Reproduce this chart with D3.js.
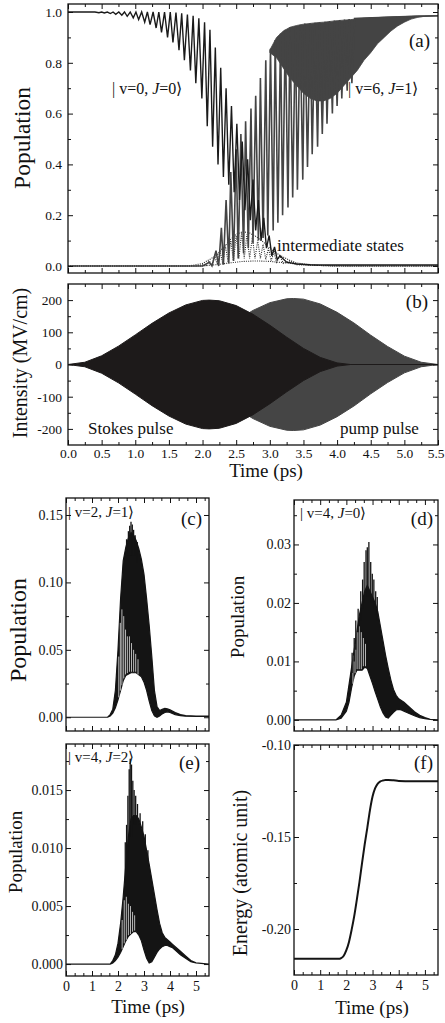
<!DOCTYPE html>
<html><head><meta charset="utf-8">
<script src="https://cdn.jsdelivr.net/npm/d3@7"></script>
<style>
body{margin:0;background:#fff;}
svg text{font-family:"Liberation Serif","Times New Roman",serif;fill:#111;}
</style></head><body>
<svg id="fig" width="445" height="1023"></svg>
<script>
// ---------------- DATA ----------------
// tick labels
const tTicks = [0,0.5,1,1.5,2,2.5,3,3.5,4,4.5,5,5.5];
const tMinor = [0.25,0.75,1.25,1.75,2.25,2.75,3.25,3.75,4.25,4.75,5.25];
const tTicksSmall = [0,1,2,3,4,5];
const tMinorSmall = [0.333,0.667,1.333,1.667,2.333,2.667,3.333,3.667,4.333,4.667,5.333];
const popTicksA = [0,0.2,0.4,0.6,0.8,1.0];
const popMinorA = [0.1,0.3,0.5,0.7,0.9];
const fieldTicks = [-200,-100,0,100,200];
const fieldMinor = [-150,-50,50,150];
const cTicks = [0,0.05,0.10,0.15], cMinor = [0.025,0.075,0.125];
const dTicks = [0,0.01,0.02,0.03], dMinor = [0.005,0.015,0.025,0.035];
const eTicks = [0,0.005,0.010,0.015], eMinor = [0.0025,0.0075,0.0125,0.0175];
const fTicks = [-0.20,-0.15,-0.10], fMinor = [-0.175,-0.125];

// (a) |v=0,J=0> extrema (time ps, population)
const v0T = [0,0.40,0.46,0.50,0.54,0.585,0.63,0.67,0.71,0.755,0.80,0.84,0.88,0.925,0.97,1.01,1.05,1.095,1.14,1.18,1.22,1.265,1.31,1.35,1.39,1.435,1.48,1.52,1.56,1.605,1.65,1.69,1.73,1.775,1.82,1.86,1.90,1.945,1.99,2.03,2.07,2.11,2.15,2.19,2.23,2.27,2.31,2.35,2.39,2.43,2.47,2.51,2.55,2.59,2.63,2.67,2.71,2.75,2.79,2.83,2.87,2.91,2.95,2.99,3.03,3.07,3.11,3.15,3.25,3.40,3.6,4.0,5.5];
const v0V = [1.0,1.0,0.997,1.0,0.996,1.0,0.994,1.0,0.991,1.0,0.987,1.0,0.983,1.0,0.977,1.0,0.970,1.0,0.960,1.0,0.950,1.0,0.937,1.0,0.920,1.0,0.900,1.0,0.880,0.998,0.850,0.995,0.810,0.99,0.770,0.985,0.720,0.975,0.660,0.96,0.550,0.93,0.470,0.86,0.400,0.78,0.350,0.70,0.320,0.63,0.290,0.56,0.260,0.49,0.220,0.42,0.180,0.34,0.140,0.26,0.100,0.19,0.070,0.12,0.040,0.075,0.025,0.04,0.015,0.008,0.005,0.004,0.004];
// (a) |v=6,J=1> extrema
const v6T = [0,2.00,2.10,2.14,2.20,2.24,2.28,2.31,2.35,2.39,2.42,2.46,2.50,2.53,2.57,2.61,2.64,2.68,2.72,2.75,2.79,2.83,2.86,2.90,2.94,2.97,3.01,3.05,3.08,3.12,3.16,3.19,3.23,3.27,3.30,3.34,3.38,3.41,3.45,3.49,3.52,3.56,3.60,3.63,3.67,3.71,3.74,3.78,3.82,3.85,3.89,3.93,3.96,4.00,4.04,4.07,4.11,4.15,4.18,4.22,4.26,4.4,5.5];
const v6V = [0,0,0.015,0,0.06,0,0.15,0.005,0.26,0.01,0.37,0.02,0.46,0.03,0.52,0.05,0.57,0.07,0.62,0.09,0.67,0.10,0.74,0.11,0.81,0.12,0.855,0.14,0.89,0.17,0.915,0.20,0.93,0.23,0.94,0.27,0.945,0.30,0.95,0.34,0.955,0.39,0.956,0.44,0.958,0.47,0.96,0.52,0.962,0.56,0.964,0.60,0.966,0.63,0.968,0.66,0.97,0.69,0.972,0.72,0.974,0.976,0.985];
// (a) |v=6,J=1> dense oscillation band
const v6BandT  = [3.0,3.1,3.2,3.3,3.4,3.5,3.6,3.7,3.8,3.9,4.0,4.1,4.2,4.3,4.4,4.5,4.6,4.7,4.8,4.9,5.0,5.1,5.2,5.3,5.5];
const v6BandHi = [0.85,0.90,0.925,0.94,0.947,0.952,0.955,0.958,0.96,0.963,0.966,0.968,0.97,0.973,0.975,0.977,0.978,0.98,0.981,0.982,0.983,0.984,0.985,0.985,0.985];
const v6BandLo = [0.84,0.82,0.78,0.74,0.71,0.68,0.66,0.65,0.65,0.66,0.68,0.71,0.74,0.77,0.81,0.84,0.875,0.90,0.925,0.945,0.96,0.972,0.979,0.983,0.985];
// (a) intermediate states (dotted)
const intAT = [0,1.9,2.0,2.05,2.1,2.14,2.18,2.22,2.26,2.30,2.34,2.38,2.42,2.46,2.50,2.54,2.58,2.62,2.66,2.70,2.74,2.78,2.82,2.86,2.90,2.94,2.98,3.02,3.06,3.10,3.15,3.2,3.3,3.4,3.6,4.0,5.5];
const intAV = [0,0,0.005,0.0,0.02,0.003,0.04,0.005,0.06,0.01,0.08,0.015,0.10,0.02,0.12,0.03,0.13,0.03,0.125,0.03,0.115,0.03,0.10,0.03,0.085,0.025,0.07,0.02,0.055,0.015,0.04,0.01,0.02,0.005,0.003,0.0,0.0];
const intBT = [0,1.8,2.0,2.2,2.3,2.4,2.5,2.6,2.7,2.8,2.9,3.0,3.1,3.2,3.3,3.4,3.6,3.8,4.0,5.5];
const intBV = [0,0,0.01,0.04,0.07,0.10,0.125,0.135,0.13,0.115,0.095,0.07,0.05,0.035,0.022,0.012,0.004,0.001,0,0];
const intCT = [0,2.0,2.2,2.4,2.6,2.8,3.0,3.2,3.4,3.6,3.8,4.2,5.5];
const intCV = [0,0,0.005,0.012,0.018,0.02,0.018,0.013,0.008,0.004,0.002,0,0];

// (b) pulse envelopes (MV/cm)
const stokesT = [0,0.25,0.5,0.75,1.0,1.25,1.5,1.75,2.0,2.1,2.25,2.5,2.75,3.0,3.25,3.5,3.75,4.0,4.2,5.5];
const stokesE = [0,7,27,57,92,128,160,185,199,200,198,183,156,122,85,50,22,5,0,0];
const pumpT = [0,1.2,1.5,1.75,2.0,2.25,2.5,2.75,3.0,3.25,3.35,3.5,3.75,4.0,4.25,4.5,4.75,5.0,5.25,5.5];
const pumpE = [0,0,10,31,62,99,136,168,192,204,205,203,188,162,129,91,56,26,7,0];

// (c) |v=2,J=1>
const cUpT = [0,1.6,1.7,1.8,1.9,1.95,2.0,2.1,2.2,2.3,2.4,2.5,2.6,2.7,2.8,2.9,3.0,3.1,3.2,3.3,3.4,3.5,3.6,3.7,3.8,3.9,4.0,4.2,4.4,4.6,5.0,5.5];
const cUpV = [0,0,0.002,0.006,0.02,0.035,0.05,0.088,0.116,0.126,0.133,0.137,0.135,0.131,0.125,0.117,0.106,0.088,0.068,0.045,0.02,0.008,0.005,0.0058,0.0065,0.0062,0.0055,0.0035,0.002,0.0012,0.0009,0.0009];
const cLoT = [0,1.6,1.7,1.8,1.9,2.0,2.1,2.2,2.3,2.5,2.7,2.9,3.0,3.1,3.2,3.3,3.4,3.5,3.6,3.7,3.8,3.9,4.0,4.2,4.4,4.6,5.0,5.5];
const cLoV = [0,0,0.001,0.003,0.007,0.013,0.02,0.027,0.031,0.033,0.033,0.03,0.026,0.02,0.012,0.005,0.001,0.0,0.001,0.0025,0.0035,0.004,0.0035,0.002,0.0012,0.0008,0.0007,0.0007];
const cSpikes = [[2.33,0.12,0.132],[2.40,0.12,0.138],[2.45,0.12,0.142],[2.50,0.12,0.145],[2.55,0.12,0.143],[2.60,0.12,0.139],[2.66,0.12,0.135],[2.74,0.115,0.13]];
const cGaps = [[2.03,0.014,0.045],[2.09,0.019,0.07],[2.15,0.023,0.08],[2.22,0.028,0.075],[2.29,0.031,0.065],[2.36,0.032,0.06],[2.44,0.033,0.06],[2.52,0.033,0.055],[2.60,0.033,0.05],[2.68,0.033,0.047],[2.77,0.031,0.043]];

// (d) |v=4,J=0>
const dT  = [0,1.6,1.8,2.0,2.1,2.2,2.3,2.4,2.5,2.6,2.7,2.8,2.9,3.0,3.1,3.2,3.3,3.4,3.5,3.6,3.7,3.8,3.9,4.0,4.1,4.2,4.4,4.6,4.8,5.0,5.2,5.5];
const dUp = [0,0,0.0008,0.003,0.006,0.009,0.012,0.015,0.018,0.02,0.022,0.023,0.022,0.021,0.02,0.0185,0.016,0.0135,0.011,0.0088,0.0068,0.0052,0.0042,0.0036,0.0033,0.003,0.0022,0.0014,0.0008,0.0004,0.0001,0];
const dLo = [0,0,0.0003,0.0015,0.003,0.0055,0.0075,0.0085,0.0085,0.0085,0.009,0.0088,0.0075,0.0062,0.0048,0.0035,0.0022,0.0012,0.0005,0.0003,0.0008,0.0013,0.0017,0.0018,0.0017,0.0015,0.0011,0.0007,0.0004,0.0002,0.0001,0];
const dSpikes = [[2.22,0.008,0.0115],[2.30,0.01,0.014],[2.36,0.012,0.017],[2.45,0.015,0.019],[2.55,0.017,0.022],[2.62,0.019,0.024],[2.68,0.02,0.027],[2.75,0.021,0.029],[2.80,0.021,0.0295],[2.86,0.021,0.0304],[2.93,0.02,0.027],[2.99,0.02,0.025],[3.05,0.019,0.024],[3.12,0.018,0.022],[3.18,0.017,0.021]];
const dGaps = [[2.25,0.006,0.011],[2.33,0.0078,0.013],[2.41,0.0085,0.015],[2.49,0.0085,0.016],[2.57,0.0085,0.015],[2.65,0.009,0.014],[2.73,0.009,0.013]];

// (e) |v=4,J=2>
const eT  = [0,1.7,1.8,1.9,2.0,2.1,2.2,2.3,2.4,2.5,2.6,2.7,2.8,2.9,3.0,3.1,3.2,3.3,3.4,3.5,3.6,3.7,3.8,3.9,4.0,4.1,4.2,4.4,4.6,4.8,5.0,5.5];
const eUp = [0,0,0.0003,0.0008,0.0018,0.0035,0.0058,0.0085,0.011,0.0125,0.0128,0.0128,0.0125,0.0118,0.011,0.0098,0.0086,0.0073,0.006,0.0047,0.0035,0.0027,0.0023,0.0021,0.0019,0.0017,0.0015,0.0011,0.0007,0.0003,0.0001,0];
const eLo = [0,0,0.0001,0.0003,0.0006,0.001,0.0015,0.002,0.0024,0.0026,0.0028,0.0028,0.0025,0.002,0.0012,0.0005,0.0001,0.0002,0.0006,0.001,0.0013,0.0015,0.0016,0.0016,0.0015,0.0014,0.0012,0.0008,0.0005,0.0002,0.0001,0];
const eSpikes = [[2.28,0.007,0.0105],[2.33,0.008,0.012],[2.38,0.009,0.0145],[2.43,0.01,0.0168],[2.47,0.011,0.0177],[2.52,0.011,0.0172],[2.57,0.012,0.0158],[2.62,0.012,0.015],[2.68,0.012,0.0145],[2.75,0.012,0.0138],[2.85,0.012,0.013],[2.95,0.011,0.0123],[3.05,0.010,0.0112],[3.15,0.009,0.0098]];
const eGaps = [[2.16,0.0012,0.0038],[2.24,0.0017,0.0055],[2.32,0.002,0.0058],[2.40,0.0024,0.0052],[2.48,0.0025,0.005],[2.56,0.0027,0.0045],[2.64,0.0028,0.0042]];

// (f) energy (atomic unit)
const fT = [0,1.0,1.7,1.8,1.9,2.0,2.1,2.2,2.3,2.4,2.5,2.6,2.7,2.8,2.9,3.0,3.1,3.2,3.3,3.4,3.5,3.6,3.8,4.0,4.5,5.0,5.5];
const fV = [-0.2162,-0.2162,-0.2162,-0.2158,-0.2145,-0.2115,-0.207,-0.2005,-0.193,-0.184,-0.1745,-0.164,-0.154,-0.145,-0.1355,-0.128,-0.1235,-0.121,-0.1198,-0.1193,-0.119,-0.119,-0.1192,-0.1195,-0.1197,-0.1197,-0.1197];

// ---------------- DRAWING ----------------
const svg = d3.select("#fig");
svg.append("rect").attr("width",445).attr("height",1023).attr("fill","#fff");
const FONT = '"Liberation Serif","Times New Roman",serif';

function panel(name, x0, x1, y0, y1, xd, yd) {
  const x = d3.scaleLinear().domain(xd).range([x0, x1]);
  const y = d3.scaleLinear().domain(yd).range([y1, y0]);
  const id = "clip" + name;
  svg.append("clipPath").attr("id", id).append("rect")
    .attr("x", x0).attr("y", y0).attr("width", x1 - x0).attr("height", y1 - y0);
  const g = svg.append("g").attr("clip-path", `url(#${id})`);
  return {x, y, g, x0, x1, y0, y1};
}

function axes(p, o) {
  const ax = svg.append("g");
  const noLab = () => "";
  const style = sel => {
    sel.select(".domain").remove();
    sel.selectAll("line").attr("stroke", "#111").attr("stroke-width", 1);
    sel.attr("font-family", FONT).attr("font-size", o.fs);
    sel.selectAll("text").attr("fill", "#111");
  };
  const bx = ax.append("g").attr("transform", `translate(0,${p.y1})`)
    .call(d3.axisBottom(p.x).tickValues(o.xt).tickSize(-5).tickPadding(o.xpad).tickFormat(o.xf || noLab)).call(style);
  ax.append("g").attr("transform", `translate(0,${p.y1})`)
    .call(d3.axisBottom(p.x).tickValues(o.xm).tickSize(-3).tickFormat(noLab)).call(style);
  ax.append("g").attr("transform", `translate(0,${p.y0})`)
    .call(d3.axisTop(p.x).tickValues(o.xt).tickSize(-5).tickFormat(noLab)).call(style);
  ax.append("g").attr("transform", `translate(0,${p.y0})`)
    .call(d3.axisTop(p.x).tickValues(o.xm).tickSize(-3).tickFormat(noLab)).call(style);
  ax.append("g").attr("transform", `translate(${p.x0},0)`)
    .call(d3.axisLeft(p.y).tickValues(o.yt).tickSize(-5).tickPadding(o.ypad).tickFormat(o.yf)).call(style);
  ax.append("g").attr("transform", `translate(${p.x0},0)`)
    .call(d3.axisLeft(p.y).tickValues(o.ym).tickSize(-3).tickFormat(noLab)).call(style);
  ax.append("g").attr("transform", `translate(${p.x1},0)`)
    .call(d3.axisRight(p.y).tickValues(o.yt).tickSize(-5).tickFormat(noLab)).call(style);
  ax.append("g").attr("transform", `translate(${p.x1},0)`)
    .call(d3.axisRight(p.y).tickValues(o.ym).tickSize(-3).tickFormat(noLab)).call(style);
  svg.append("rect").attr("x", p.x0).attr("y", p.y0).attr("width", p.x1 - p.x0).attr("height", p.y1 - p.y0)
    .attr("fill", "none").attr("stroke", "#111").attr("stroke-width", 1.3);
  return bx;
}

function text(x, y, str, size, anchor, opts = {}) {
  const t = svg.append("text").attr("x", x).attr("y", y).attr("font-size", size)
    .attr("text-anchor", anchor || "start").attr("font-family", FONT);
  if (opts.rot) t.attr("transform", `rotate(-90,${x},${y})`).attr("dominant-baseline", "central");
  return t;
}
function ketLabel(x, y, v, J, size) {
  const t = text(x, y, "", size, "start");
  t.append("tspan").text("| v=" + v + ", ");
  t.append("tspan").attr("font-style", "italic").text("J");
  t.append("tspan").text("=" + J + "\u27E9");
}
function yTitle(x, y, str, size) { text(x, y, str, size, "middle", {rot: true}).text(str); }

const lineOf = (p) => d3.line().x(d => p.x(d[0])).y(d => p.y(d[1]));
const fmt = f => d => d3.format(f)(d).replace("\u2212", "-");

// ---- panel (a)
const A = panel("a", 68, 438, 4, 273, [0, 5.5], [-0.0276, 1.0315]);
const dotted = (tt, vv) => A.g.append("path").datum(d3.zip(tt, vv)).attr("d", lineOf(A))
  .attr("fill", "none").attr("stroke", "#2a2a2a").attr("stroke-width", 1.1).attr("stroke-dasharray", "1,1.2");
dotted(intCT, intCV);
dotted(intBT, intBV);
dotted(intAT, intAV);
A.g.append("path").datum(d3.zip(v6BandT, v6BandLo, v6BandHi))
  .attr("d", d3.area().x(d => A.x(d[0])).y0(d => A.y(d[1])).y1(d => A.y(d[2])))
  .attr("fill", "#444").attr("stroke", "#444").attr("stroke-width", 0.8);
A.g.append("path").datum(d3.zip(v6T, v6V)).attr("d", lineOf(A))
  .attr("fill", "none").attr("stroke", "#444").attr("stroke-width", 1.6);
A.g.append("path").datum(d3.zip(v0T, v0V)).attr("d", lineOf(A))
  .attr("fill", "none").attr("stroke", "#1a1a1a").attr("stroke-width", 1.4);
axes(A, {xt: tTicks, xm: tMinor, yt: popTicksA, ym: popMinorA, xf: null, yf: fmt(".1f"), xpad: 3, ypad: 6, fs: 13.5});
yTitle(22, 138, "Population", 23.5);
text(430, 47, "", 19, "end").text("(a)");
ketLabel(112, 94, 0, 0, 16);
ketLabel(348, 94, 6, 1, 16);
text(277, 251, "", 17, "start").text("intermediate states");

// ---- panel (b)
const B = panel("b", 68, 438, 284, 445, [0, 5.5], [-250, 250]);
const env = d3.area().x(d => B.x(d[0])).y0(d => B.y(-d[1])).y1(d => B.y(d[1]));
B.g.append("path").datum(d3.zip(pumpT, pumpE)).attr("d", env).attr("fill", "#454545").attr("stroke", "#454545").attr("stroke-width", 1);
B.g.append("path").datum(d3.zip(stokesT, stokesE)).attr("d", env).attr("fill", "#1d1a1a").attr("stroke", "#1d1a1a").attr("stroke-width", 1);
const bx = axes(B, {xt: tTicks, xm: tMinor, yt: fieldTicks, ym: fieldMinor, xf: fmt(".1f"), yf: d => String(d), xpad: 3, ypad: 6, fs: 13.5});
// last label sits at the right page edge: keep it inside the page
bx.selectAll(".tick").filter(d => d === 5.5).select("text").attr("text-anchor", "end").attr("x", 6);
yTitle(20, 363, "Intensity (MV/cm)", 20);
text(428, 308, "", 19, "end").text("(b)");
text(88, 434, "", 17, "start").text("Stokes pulse");
text(340, 434, "", 17, "start").text("pump pulse");
text(266, 477, "", 19, "middle").text("Time (ps)");

// helper for oscillating small panels
function dense(P, upT, upV, loT, loV, spikes, gaps) {
  const pts = d3.zip(upT, upV).concat(d3.zip(loT, loV).reverse());
  P.g.append("path").datum(pts).attr("d", lineOf(P).curve(d3.curveLinearClosed))
    .attr("fill", "#141414").attr("stroke", "#141414").attr("stroke-width", 1.2);
  if (gaps) P.g.selectAll(null).data(gaps).join("line")
    .attr("x1", d => P.x(d[0])).attr("x2", d => P.x(d[0]))
    .attr("y1", d => P.y(d[1]) - 1).attr("y2", d => P.y(d[2]))
    .attr("stroke", "#fff").attr("stroke-width", 0.7);
  if (spikes) P.g.selectAll(null).data(spikes).join("line")
    .attr("x1", d => P.x(d[0])).attr("x2", d => P.x(d[0]))
    .attr("y1", d => P.y(d[1])).attr("y2", d => P.y(d[2]))
    .attr("stroke", "#141414").attr("stroke-width", 1.3);
}

// ---- panel (c)
const C = panel("c", 66, 209, 498, 731, [0, 5.5], [-0.0102, 0.1626]);
dense(C, cUpT, cUpV, cLoT, cLoV, cSpikes, cGaps);
axes(C, {xt: tTicksSmall, xm: tMinorSmall, yt: cTicks, ym: cMinor, xf: null, yf: fmt(".2f"), xpad: 5, ypad: 3, fs: 14});
yTitle(18, 630, "Population", 24);
text(202, 525, "", 19, "end").text("(c)");
ketLabel(68, 517, 2, 1, 15);

// ---- panel (d)
const D = panel("d", 294, 438, 500, 731, [0, 5.5], [-0.0019, 0.0376]);
dense(D, dT, dUp, dT, dLo, dSpikes, dGaps);
axes(D, {xt: tTicksSmall, xm: tMinorSmall, yt: dTicks, ym: dMinor, xf: null, yf: fmt(".2f"), xpad: 5, ypad: 3, fs: 14});
yTitle(237, 617, "Population", 19);
text(433, 525, "", 19, "end").text("(d)");
ketLabel(300, 518, 4, 0, 15);

// ---- panel (e)
const E = panel("e", 66, 209, 744, 976, [0, 5.5], [-0.00103, 0.01897]);
dense(E, eT, eUp, eT, eLo, eSpikes, eGaps);
axes(E, {xt: tTicksSmall, xm: tMinorSmall, yt: eTicks, ym: eMinor, xf: d => String(d), yf: fmt(".3f"), xpad: 5, ypad: 3, fs: 14});
yTitle(15, 852, "Population", 19);
text(200, 769, "", 19, "end").text("(e)");
ketLabel(68, 762, 4, 2, 15);
text(148, 1013, "", 19, "middle").text("Time (ps)");

// ---- panel (f)
const F = panel("f", 294, 438, 745, 975, [0, 5.5], [-0.225, -0.10]);
F.g.append("path").datum(d3.zip(fT, fV)).attr("d", lineOf(F).curve(d3.curveMonotoneX))
  .attr("fill", "none").attr("stroke", "#141414").attr("stroke-width", 2);
axes(F, {xt: tTicksSmall, xm: tMinorSmall, yt: fTicks, ym: fMinor, xf: d => String(d), yf: d => d.toFixed(2), xpad: 5, ypad: 3, fs: 14});
yTitle(240, 873, "Energy (atomic unit)", 20);
text(433, 769, "", 19, "end").text("(f)");
text(372, 1014, "", 19, "middle").text("Time (ps)");
</script>
</body></html>
